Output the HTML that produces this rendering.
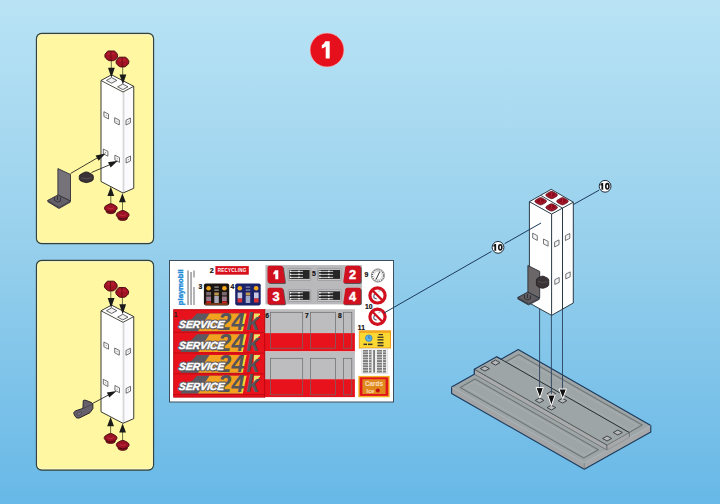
<!DOCTYPE html>
<html><head><meta charset="utf-8">
<style>
html,body{margin:0;padding:0;}
body{width:720px;height:504px;overflow:hidden;position:relative;background:linear-gradient(180deg,#b9e3f5 0%,#96cfec 50%,#67b8e7 100%);font-family:"Liberation Sans",sans-serif;}
svg{position:absolute;left:0;top:0;}
text{font-family:"Liberation Sans",sans-serif;}
</style></head>
<body>
<svg width="720" height="504" viewBox="0 0 720 504">
<defs>
  <g id="cap">
    <path d="M-3.2,-4.7 L2.6,-4.7 Q3.4,-4.7 4,-4.1 L6,-1.7 Q6.4,-1.1 6.4,-0.3 L6.2,1.3 Q6,2.1 5.3,2.7 L3,4.6 Q2.4,5 1.6,5 L-1.6,5 Q-2.4,5 -3,4.6 L-5.3,2.7 Q-6,2.1 -6.2,1.3 L-6.4,-0.3 Q-6.4,-1.1 -6,-1.7 L-4,-4.1 Q-3.6,-4.7 -3.2,-4.7 Z" fill="#a01224" stroke="#480810" stroke-width="1" stroke-linejoin="round"/>
    <path d="M-4.6,-1.4 L-2.6,-3.9 L2.4,-3.9 L4.6,-1.4 Q2,0 0,0 Q-2.4,0 -4.6,-1.4 Z" fill="#bc1e32" opacity="0.6"/>
    <path d="M-0.3,-4.6 L-0.3,4.7" stroke="#6a0814" stroke-width="0.9"/>
  </g>
  <g id="tower">
    <!-- left face -->
    <polygon points="101,80.5 123,92 123,193 101,181.5" fill="#ffffff"/>
    <!-- right face -->
    <polygon points="123,92 133.75,86.3 133.75,188.3 123,193" fill="#fbfbfd"/>
    <rect x="122.6" y="92" width="1.8" height="101" fill="#d8d8d8"/>
    <!-- top face -->
    <polygon points="101,80.5 111.5,74.8 133.75,86.3 123,92" fill="#ffffff"/>
    <!-- top holes -->
    <polygon points="106.4,80.4 111.6,77.6 116.8,80.4 111.6,83.2" fill="#f2f2f2" stroke="#3a3a3a" stroke-width="0.75" stroke-linejoin="round"/>
    <polygon points="117.6,86.8 122.8,84.0 128.0,86.8 122.8,89.6" fill="#f2f2f2" stroke="#3a3a3a" stroke-width="0.75" stroke-linejoin="round"/>
    <!-- outline -->
    <polygon points="101,80.5 111.5,74.8 133.75,86.3 133.75,188.3 123,193 101,181.5" fill="none" stroke="#3a3a32" stroke-width="1"/>
    <polyline points="101,80.5 123,92 133.75,86.3" fill="none" stroke="#3a3a32" stroke-width="0.9"/>
    <!-- side holes -->
    <g fill="#f6f6f6" stroke="#3a3a3a" stroke-width="0.7">
      <polygon points="103.9,111.7 108.5,114.1 108.5,118.9 103.9,116.5"/>
      <polygon points="114.7,117.7 119.3,120.1 119.3,124.9 114.7,122.5"/>
      <polygon points="103.3,149.0 107.9,151.4 107.9,156.2 103.3,153.8"/>
      <polygon points="114.9,155.2 119.5,157.6 119.5,162.4 114.9,160.0"/>
      <polygon points="126.0,120.2 130.4,118.0 130.4,122.8 126.0,125.0"/>
      <polygon points="126.1,158.2 130.5,156.0 130.5,160.8 126.1,163.0"/>
    </g>
    <g fill="#666">
      <rect x="105.8" y="114.9" width="0.8" height="0.8"/>
      <rect x="116.6" y="120.9" width="0.8" height="0.8"/>
      <rect x="105.2" y="152.2" width="0.8" height="0.8"/>
      <rect x="116.8" y="158.4" width="0.8" height="0.8"/>
      <rect x="127.8" y="121.1" width="0.8" height="0.8"/>
      <rect x="127.9" y="159.1" width="0.8" height="0.8"/>
    </g>
  </g>
  <g id="capB">
    <path d="M-4.3,0.8 L4.3,0.8 L4.6,3.6 Q3.2,5.2 0,5.2 Q-3.2,5.2 -4.6,3.6 Z" fill="#8a0e1c" stroke="#44080e" stroke-width="0.8" stroke-linejoin="round"/>
    <path d="M-6.3,-0.9 Q-6.3,-2 -4.6,-2.9 L-1.6,-4.5 Q0,-5.1 1.6,-4.5 L4.6,-2.9 Q6.3,-2 6.3,-0.9 L6.3,0.3 Q6,1.6 4.2,2.4 L1.6,3.3 Q0,3.8 -1.6,3.3 L-4.2,2.4 Q-6,1.6 -6.3,0.3 Z" fill="#9c1224" stroke="#44080e" stroke-width="0.9" stroke-linejoin="round"/>
    <path d="M-3.2,-0.6 Q0,1.2 3.2,-0.6" stroke="#d04050" stroke-width="0.8" fill="none" opacity="0.8"/>
  </g>
  <g id="capT">
    <path d="M-5.8,0.2 Q-6,-0.8 -4.6,-1.6 L-1.4,-3.4 Q0,-4.1 1.4,-3.4 L4.6,-1.6 Q6,-0.8 5.8,0.2 Q5.4,1.2 4,1.9 L1.3,3.3 Q0,3.9 -1.3,3.3 L-4,1.9 Q-5.4,1.2 -5.8,0.2 Z" fill="#a4142a" stroke="#520a14" stroke-width="0.7" stroke-linejoin="round"/>
    <path d="M-3.4,-1.2 Q0,-3.6 3.4,-1.2 L3.4,0.2 Q0,2.2 -3.4,0.2 Z" fill="#8a0c1c"/>
    <path d="M0,-2.8 L0,1.4" stroke="#c02838" stroke-width="0.7"/>
  </g>
  <g id="ten">
    <path d="M-3.6,-3.4 L-1.9,-3.4 L-1.9,3.4 L-3.7,3.4 L-3.7,-1.1 Q-4.1,-0.8 -4.7,-0.7 L-4.7,-2.1 Q-3.8,-2.5 -3.6,-3.4 Z" fill="#141414"/>
    <ellipse cx="2.25" cy="0" rx="1.55" ry="2.65" fill="none" stroke="#141414" stroke-width="1.6"/>
  </g>
  <g id="arrowDown">
    <polygon points="-3.4,-10 3.4,-10 0,0" fill="#1a1a1a"/>
  </g>
</defs>

<!-- Panels -->
<rect x="36.5" y="33.5" width="117" height="210" rx="5" fill="#fff7a2" stroke="#34443a" stroke-width="1.3"/>
<rect x="37.7" y="34.7" width="114.6" height="207.6" rx="4" fill="none" stroke="#fffbd0" stroke-width="0.9"/>
<rect x="36.5" y="260.5" width="117" height="209.5" rx="5" fill="#fff7a2" stroke="#34443a" stroke-width="1.3"/>
<rect x="37.7" y="261.7" width="114.6" height="207.1" rx="4" fill="none" stroke="#fffbd0" stroke-width="0.9"/>

<!-- Step number -->
<circle cx="327" cy="50" r="17" fill="#e5101c" stroke="#f2c4c8" stroke-width="0.7"/>
<path d="M325.3,41.3 L329.7,41.3 L329.7,58.4 L325.7,58.4 L325.7,46.6 Q323.9,48 321.8,48.5 L321.8,45 Q324.2,44.2 325.3,41.3 Z" fill="#ffffff"/>

<!-- Panel 1 -->
<g id="p1">
  <use href="#tower"/>
  <!-- top caps + arrows -->
  <line x1="111.3" y1="60" x2="111.3" y2="69" stroke="#6a7040" stroke-width="1"/>
  <line x1="122.7" y1="66.5" x2="122.7" y2="75" stroke="#6a7040" stroke-width="1"/>
  <use href="#arrowDown" x="111.4" y="77.8"/>
  <use href="#arrowDown" x="122.9" y="84.4"/>
  <use href="#cap" x="111.25" y="55.7"/>
  <use href="#cap" x="122.45" y="61.9"/>
  <!-- bracket -->
  <polygon points="57.9,168.6 70.5,174.5 70.5,201 57.9,195" fill="#76727a" stroke="#33313a" stroke-width="0.9" stroke-linejoin="round"/>
  <polygon points="47.5,200.5 57.9,195 70.5,201 59,207.5" fill="#64606a" stroke="#33313a" stroke-width="0.9" stroke-linejoin="round"/>
  <polygon points="47.5,200.5 59,207.5 59,209 47.5,202" fill="#3c3a44"/>
  <polygon points="59,207.5 70.5,201 70.5,202.5 59,209" fill="#46444e"/>
  <path d="M54.5,197 l0,3.5 M57.5,196 l0,4 M60.5,197.5 l0,3.5 M54.5,200.5 l3,1.5 l3,-1" stroke="#2a2830" stroke-width="0.8" fill="none"/>
  <!-- knob -->
  <g transform="translate(86.3,177.2) scale(1.12,1.1)">
    <path d="M-6.3,-0.9 Q-6.3,-2 -4.6,-2.9 L-1.6,-4.5 Q0,-5.1 1.6,-4.5 L4.6,-2.9 Q6.3,-2 6.3,-0.9 L6.3,1.8 Q6,3 4.2,3.8 L1.6,4.7 Q0,5.2 -1.6,4.7 L-4.2,3.8 Q-6,3 -6.3,1.8 Z" fill="#3a3236" stroke="#1e181c" stroke-width="0.7" stroke-linejoin="round"/>
    <path d="M-4.5,0.6 Q0,2.4 4.5,0.6" stroke="#5a5258" stroke-width="0.8" fill="none"/>
  </g>
  <!-- arrows to tower -->
  <line x1="70.5" y1="173.5" x2="98" y2="157.5" stroke="#2a2a22" stroke-width="0.9"/>
  <polygon points="105.5,153.5 95.6,155.6 98.6,160.8" fill="#1a1a1a"/>
  <line x1="91.5" y1="172.5" x2="110" y2="164.6" stroke="#2a2a22" stroke-width="0.9"/>
  <polygon points="117.8,160.7 108,162.2 110.6,167.6" fill="#1a1a1a"/>
  <!-- bottom arrows + caps -->
  <line x1="110.8" y1="195" x2="110.8" y2="204" stroke="#6a7040" stroke-width="1"/>
  <line x1="122.5" y1="201" x2="122.5" y2="211" stroke="#6a7040" stroke-width="1"/>
  <polygon points="110.8,186.8 107.4,196 114.2,196" fill="#1a1a1a"/>
  <polygon points="122.4,193.2 119,202.2 125.8,202.2" fill="#1a1a1a"/>
  <use href="#capB" x="110.8" y="208.5"/>
  <use href="#capB" x="122.7" y="215.3"/>
</g>


<!-- Panel 2 -->
<g id="p2">
  <use href="#tower" y="230.3"/>
  <line x1="110.8" y1="290" x2="110.8" y2="299" stroke="#6a7040" stroke-width="1"/>
  <line x1="122.4" y1="296.5" x2="122.4" y2="305" stroke="#6a7040" stroke-width="1"/>
  <use href="#arrowDown" x="111.1" y="307.9"/>
  <use href="#arrowDown" x="122.7" y="314.2"/>
  <use href="#cap" x="110.8" y="285.9"/>
  <use href="#cap" x="122.2" y="292.3"/>
  <!-- clip piece -->
  <path d="M83.3,400.5 Q84.5,399.8 86,400.4 L91.6,402.6 Q92.8,403.2 92.9,404.6 L92.9,408.6 L90,412.7 L79.5,417.9 Q76.5,418.8 75.2,416.5 L73.8,413.6 Q73.6,412 75,411.2 L77.1,410.3 L82.9,408.4 Z" fill="#66606c" stroke="#2a262c" stroke-width="1" stroke-linejoin="round"/>
  <path d="M83,408.4 L92.8,404.2" stroke="#3e3a42" stroke-width="0.7" fill="none"/>
  <ellipse cx="79.2" cy="413.6" rx="2.6" ry="1.3" fill="#7c7686" stroke="#3a363e" stroke-width="0.6" transform="rotate(-25 79.2 413.6)"/>
  <line x1="92.5" y1="403.5" x2="108.5" y2="395" stroke="#2a2a22" stroke-width="0.9"/>
  <polygon points="116.5,391 106.8,392.4 109.3,397.6" fill="#1a1a1a"/>
  <line x1="110.6" y1="425" x2="110.6" y2="434" stroke="#6a7040" stroke-width="1"/>
  <line x1="122.6" y1="431.5" x2="122.6" y2="441" stroke="#6a7040" stroke-width="1"/>
  <polygon points="110.6,417 107.2,426.2 114,426.2" fill="#1a1a1a"/>
  <polygon points="122.6,423.6 119.2,432.6 126,432.6" fill="#1a1a1a"/>
  <use href="#capB" x="110.6" y="438.3"/>
  <use href="#capB" x="122.7" y="445.2"/>
</g>

<!-- Sticker sheet -->
<g id="sheet">
  <rect x="169.5" y="260.5" width="224" height="141.5" fill="#ffffff" stroke="#3e4e5a" stroke-width="1"/>
  <!-- playmobil logo -->
  <text transform="translate(182.5,305.2) rotate(-90)" font-size="7.7" font-weight="bold" fill="#1e8ad6" stroke="#1e8ad6" stroke-width="0.35">playmobil</text>
  <g fill="#a4a4a6">
    <rect x="187.2" y="270.5" width="1.7" height="34.5"/>
    <rect x="190.2" y="272" width="1.7" height="33"/>
    <rect x="193.2" y="287" width="1.6" height="18"/>
    <rect x="193.2" y="270.5" width="1.6" height="7"/>
  </g>
  <!-- 2 -->
  <text x="209.7" y="273" font-size="7.2" font-weight="bold" fill="#111" stroke="#111" stroke-width="0.2">2</text>
  <rect x="215.4" y="266.1" width="33.4" height="8.6" fill="#d8101c"/>
  <text x="232.1" y="272.3" font-size="4.6" font-weight="bold" fill="#ffffff" text-anchor="middle" letter-spacing="0.2">RECYCLING</text>
  <!-- 3 -->
  <text x="198.6" y="288.8" font-size="6.8" font-weight="bold" fill="#111" stroke="#111" stroke-width="0.2">3</text>
  <rect x="203.9" y="283.5" width="25.3" height="21.9" rx="1.8" fill="#1c1612"/>
  <g>
    <circle cx="208.6" cy="288.2" r="2.3" fill="#f2a818"/>
    <circle cx="224.4" cy="288.2" r="2.3" fill="#f2a818"/>
    <rect x="206.2" y="292" width="4.8" height="3.4" fill="#7a6a70"/>
    <rect x="222" y="292" width="4.8" height="3.4" fill="#7a6a70"/>
    <rect x="206.2" y="296.5" width="4.8" height="4.5" fill="#9a7a8a"/>
    <rect x="222" y="296.5" width="4.8" height="4.5" fill="#9a7a8a"/>
    <rect x="206.2" y="301.3" width="4.8" height="2" fill="#d02020"/>
    <rect x="222" y="301.3" width="4.8" height="2" fill="#d02020"/>
    <rect x="214.3" y="286.5" width="4.5" height="1.2" fill="#9a9a9a"/>
    <rect x="214.3" y="289.5" width="4.5" height="1.2" fill="#9a9a9a"/>
    <rect x="214.3" y="292.5" width="4.5" height="3" fill="#c09a50"/>
    <rect x="214.3" y="296" width="4.5" height="7" fill="#a8a8b8"/>
    <rect x="205" y="303.6" width="23" height="0.9" fill="#e06020"/>
  </g>
  <!-- 4 -->
  <text x="230.6" y="288.8" font-size="6.8" font-weight="bold" fill="#111" stroke="#111" stroke-width="0.2">4</text>
  <rect x="235.2" y="283.5" width="25.5" height="21.9" rx="1.8" fill="#1a226a"/>
  <g>
    <circle cx="239.8" cy="288.2" r="2.3" fill="#f2a818"/>
    <circle cx="256.2" cy="288.2" r="2.3" fill="#f2a818"/>
    <rect x="237.6" y="292.5" width="4.6" height="6" fill="#c8c8e0"/>
    <rect x="254" y="292.5" width="4.6" height="6" fill="#c8c8e0"/>
    <rect x="237.6" y="298.5" width="4.6" height="4" fill="#d83030"/>
    <rect x="254" y="298.5" width="4.6" height="4" fill="#d83030"/>
    <rect x="245.7" y="286.5" width="4.5" height="1.2" fill="#8a8ab0"/>
    <rect x="245.7" y="289.5" width="4.5" height="1.2" fill="#8a8ab0"/>
    <rect x="245.7" y="292.5" width="4.5" height="3" fill="#c09a50"/>
    <rect x="245.7" y="296" width="4.5" height="7" fill="#a0a8c8"/>
  </g>
  <!-- gray panel 1-4 -->
  <rect x="265.4" y="265.1" width="96.5" height="39.3" fill="#b9b9bb"/>
  <g fill="#5a5254" transform="translate(0.9,0.9)">
    <path d="M269.5,265.8 L281,265.8 Q282.6,265.8 283,267.3 L285,281.5 Q285.2,283 283.6,283 L269.5,283 Q267.5,283 267.5,281 L267.5,267.8 Q267.5,265.8 269.5,265.8 Z"/>
    <path d="M269.5,287.7 L281,287.7 Q282.6,287.7 283,289.2 L285,302.9 Q285.2,304.4 283.6,304.4 L269.5,304.4 Q267.5,304.4 267.5,302.4 L267.5,289.7 Q267.5,287.7 269.5,287.7 Z"/>
    <path d="M358.8,265.8 L347.3,265.8 Q345.7,265.8 345.3,267.3 L343.3,281.5 Q343.1,283 344.7,283 L358.8,283 Q360.8,283 360.8,281 L360.8,267.8 Q360.8,265.8 358.8,265.8 Z"/>
    <path d="M358.8,287.7 L347.3,287.7 Q345.7,287.7 345.3,289.2 L343.3,302.9 Q343.1,304.4 344.7,304.4 L358.8,304.4 Q360.8,304.4 360.8,302.4 L360.8,289.7 Q360.8,287.7 358.8,287.7 Z"/>
  </g>
  <g fill="#d0101e">
    <path d="M269.5,265.8 L281,265.8 Q282.6,265.8 283,267.3 L285,281.5 Q285.2,283 283.6,283 L269.5,283 Q267.5,283 267.5,281 L267.5,267.8 Q267.5,265.8 269.5,265.8 Z"/>
    <path d="M269.5,287.7 L281,287.7 Q282.6,287.7 283,289.2 L285,302.9 Q285.2,304.4 283.6,304.4 L269.5,304.4 Q267.5,304.4 267.5,302.4 L267.5,289.7 Q267.5,287.7 269.5,287.7 Z"/>
    <path d="M358.8,265.8 L347.3,265.8 Q345.7,265.8 345.3,267.3 L343.3,281.5 Q343.1,283 344.7,283 L358.8,283 Q360.8,283 360.8,281 L360.8,267.8 Q360.8,265.8 358.8,265.8 Z"/>
    <path d="M358.8,287.7 L347.3,287.7 Q345.7,287.7 345.3,289.2 L343.3,302.9 Q343.1,304.4 344.7,304.4 L358.8,304.4 Q360.8,304.4 360.8,302.4 L360.8,289.7 Q360.8,287.7 358.8,287.7 Z"/>
  </g>
  <path d="M275,270.2 L278.3,270.2 L278.3,279.3 L275.3,279.3 L275.3,273.8 Q274.5,274.5 273.4,274.8 L273.4,272.4 Q274.6,271.8 275,270.2 Z" fill="#ffffff"/>
  <g font-size="12.8" font-weight="bold" fill="#ffffff" stroke="#ffffff" stroke-width="0.45" text-anchor="middle">
    <text x="276" y="300.6">3</text>
    <text x="352.5" y="279">2</text>
    <text x="352.5" y="300.6">4</text>
  </g>
  <g>
    <rect x="288.2" y="268.4" width="22.5" height="12" rx="0.8" fill="#cdcdcf" stroke="#858587" stroke-width="0.6"/>
    <rect x="289.3" y="269.9" width="20.3" height="9.0" fill="#262626"/>
    <rect x="290.0" y="270.9" width="13.0" height="0.9" fill="#d8d8d8"/>
    <rect x="289.8" y="270.6" width="1.4" height="1.5" fill="#ffffff"/>
    <rect x="298.3" y="270.6" width="1.3" height="1.5" fill="#ffffff"/>
    <rect x="290.0" y="273.9" width="13.0" height="0.9" fill="#d8d8d8"/>
    <rect x="289.8" y="273.6" width="1.4" height="1.5" fill="#ffffff"/>
    <rect x="298.3" y="273.6" width="1.3" height="1.5" fill="#ffffff"/>
    <rect x="290.0" y="276.9" width="13.0" height="0.9" fill="#d8d8d8"/>
    <rect x="289.8" y="276.6" width="1.4" height="1.5" fill="#ffffff"/>
    <rect x="298.3" y="276.6" width="1.3" height="1.5" fill="#ffffff"/>
    <rect x="317.6" y="268.4" width="23.6" height="12" rx="0.8" fill="#cdcdcf" stroke="#858587" stroke-width="0.6"/>
    <rect x="318.7" y="269.9" width="21.4" height="9.0" fill="#262626"/>
    <rect x="319.4" y="270.9" width="13.7" height="0.9" fill="#d8d8d8"/>
    <rect x="319.2" y="270.6" width="1.4" height="1.5" fill="#ffffff"/>
    <rect x="328.2" y="270.6" width="1.3" height="1.5" fill="#ffffff"/>
    <rect x="319.4" y="273.9" width="13.7" height="0.9" fill="#d8d8d8"/>
    <rect x="319.2" y="273.6" width="1.4" height="1.5" fill="#ffffff"/>
    <rect x="328.2" y="273.6" width="1.3" height="1.5" fill="#ffffff"/>
    <rect x="319.4" y="276.9" width="13.7" height="0.9" fill="#d8d8d8"/>
    <rect x="319.2" y="276.6" width="1.4" height="1.5" fill="#ffffff"/>
    <rect x="328.2" y="276.6" width="1.3" height="1.5" fill="#ffffff"/>
    <rect x="288.2" y="289.8" width="22.5" height="11.6" rx="0.8" fill="#cdcdcf" stroke="#858587" stroke-width="0.6"/>
    <rect x="289.3" y="291.3" width="20.3" height="8.6" fill="#262626"/>
    <rect x="290.0" y="292.3" width="13.0" height="0.9" fill="#d8d8d8"/>
    <rect x="289.8" y="292.0" width="1.4" height="1.5" fill="#ffffff"/>
    <rect x="298.3" y="292.0" width="1.3" height="1.5" fill="#ffffff"/>
    <rect x="290.0" y="295.3" width="13.0" height="0.9" fill="#d8d8d8"/>
    <rect x="289.8" y="295.0" width="1.4" height="1.5" fill="#ffffff"/>
    <rect x="298.3" y="295.0" width="1.3" height="1.5" fill="#ffffff"/>
    <rect x="290.0" y="298.3" width="13.0" height="0.9" fill="#d8d8d8"/>
    <rect x="289.8" y="298.0" width="1.4" height="1.5" fill="#ffffff"/>
    <rect x="298.3" y="298.0" width="1.3" height="1.5" fill="#ffffff"/>
    <rect x="317.6" y="289.8" width="23.6" height="11.6" rx="0.8" fill="#cdcdcf" stroke="#858587" stroke-width="0.6"/>
    <rect x="318.7" y="291.3" width="21.4" height="8.6" fill="#262626"/>
    <rect x="319.4" y="292.3" width="13.7" height="0.9" fill="#d8d8d8"/>
    <rect x="319.2" y="292.0" width="1.4" height="1.5" fill="#ffffff"/>
    <rect x="328.2" y="292.0" width="1.3" height="1.5" fill="#ffffff"/>
    <rect x="319.4" y="295.3" width="13.7" height="0.9" fill="#d8d8d8"/>
    <rect x="319.2" y="295.0" width="1.4" height="1.5" fill="#ffffff"/>
    <rect x="328.2" y="295.0" width="1.3" height="1.5" fill="#ffffff"/>
    <rect x="319.4" y="298.3" width="13.7" height="0.9" fill="#d8d8d8"/>
    <rect x="319.2" y="298.0" width="1.4" height="1.5" fill="#ffffff"/>
    <rect x="328.2" y="298.0" width="1.3" height="1.5" fill="#ffffff"/>
  </g>
  <text x="311.9" y="276.4" font-size="6.8" font-weight="bold" fill="#111" stroke="#111" stroke-width="0.2">5</text>
  <!-- 9 gauge -->
  <text x="364.5" y="277.1" font-size="6.8" font-weight="bold" fill="#111" stroke="#111" stroke-width="0.2">9</text>
  <circle cx="377.9" cy="275.5" r="6.6" fill="#ffffff" stroke="#666" stroke-width="0.7"/>
  <circle cx="377.9" cy="275.5" r="5.6" fill="none" stroke="#555" stroke-width="1.1" stroke-dasharray="1.1 1.1"/>
  <circle cx="377.9" cy="275.5" r="4.2" fill="none" stroke="#aaa" stroke-width="0.5"/>
  <line x1="376" y1="279.5" x2="379.8" y2="271.5" stroke="#222" stroke-width="0.9"/>
  <!-- no smoking -->
  <g id="nosmoke">
    <circle cx="377.5" cy="295.4" r="7.6" fill="#ffffff" stroke="#d0101e" stroke-width="3.2"/>
    <path d="M375,292.6 l-1.2,3.2 q-0.4,2 1.4,2.6 l1.4,0.4" stroke="#5a5e70" stroke-width="1.2" fill="none"/>
    <path d="M378.5,291.5 l3,-1.6" stroke="#9a9ea8" stroke-width="1" fill="none"/>
    <line x1="372" y1="289.9" x2="383" y2="300.9" stroke="#d0101e" stroke-width="2.3"/>
  </g>
  <use href="#nosmoke" y="21.3"/>
  <text x="365" y="308.5" font-size="6.8" font-weight="bold" fill="#111" stroke="#111" stroke-width="0.2">10</text>
  <!-- red service area -->
  <rect x="173.7" y="309.7" width="90.8" height="87.4" fill="#e8121c" stroke="#c00812" stroke-width="1"/>
  <g transform="translate(0,0.00)">
    <polygon points="197,313.6 243.5,313.6 239.7,331.3 180.2,331.3" fill="#5c5a60"/>
    <polygon points="209.5,313.6 243,313.6 239.2,331.3 198,331.3" fill="#f2a21e"/>
    <polygon points="243,313.6 246.6,313.6 242.8,331.3 239.2,331.3" fill="#f4d23a"/>
    <polygon points="254,313.6 260,313.6 260,314.5 253.5,321.5" fill="#e8e26a"/>
    <text y="330.2" font-size="23.5" font-weight="bold" font-style="italic" fill="#55545a"><tspan x="218.2">2</tspan><tspan x="231.4">4</tspan><tspan x="246.3">k</tspan></text>
    <text transform="translate(178.6,328.1) skewX(-8)" font-size="10.3" font-weight="bold" font-style="italic" fill="#5c5a60" stroke="#5c5a60" stroke-width="2.6" stroke-linejoin="round">SERVICE</text>
    <text transform="translate(178.6,328.1) skewX(-8)" font-size="10.3" font-weight="bold" font-style="italic" fill="#ffffff" stroke="#ffffff" stroke-width="0.45">SERVICE</text>
    <line x1="173.5" y1="332.3" x2="264.5" y2="332.3" stroke="#c40a14" stroke-width="1"/>
  </g>
  <g transform="translate(0,20.75)">
    <polygon points="197,313.6 243.5,313.6 239.7,331.3 180.2,331.3" fill="#5c5a60"/>
    <polygon points="209.5,313.6 243,313.6 239.2,331.3 198,331.3" fill="#f2a21e"/>
    <polygon points="243,313.6 246.6,313.6 242.8,331.3 239.2,331.3" fill="#f4d23a"/>
    <polygon points="254,313.6 260,313.6 260,314.5 253.5,321.5" fill="#e8e26a"/>
    <text y="330.2" font-size="23.5" font-weight="bold" font-style="italic" fill="#55545a"><tspan x="218.2">2</tspan><tspan x="231.4">4</tspan><tspan x="246.3">k</tspan></text>
    <text transform="translate(178.6,328.1) skewX(-8)" font-size="10.3" font-weight="bold" font-style="italic" fill="#5c5a60" stroke="#5c5a60" stroke-width="2.6" stroke-linejoin="round">SERVICE</text>
    <text transform="translate(178.6,328.1) skewX(-8)" font-size="10.3" font-weight="bold" font-style="italic" fill="#ffffff" stroke="#ffffff" stroke-width="0.45">SERVICE</text>
    <line x1="173.5" y1="332.3" x2="264.5" y2="332.3" stroke="#c40a14" stroke-width="1"/>
  </g>
  <g transform="translate(0,41.50)">
    <polygon points="197,313.6 243.5,313.6 239.7,331.3 180.2,331.3" fill="#5c5a60"/>
    <polygon points="209.5,313.6 243,313.6 239.2,331.3 198,331.3" fill="#f2a21e"/>
    <polygon points="243,313.6 246.6,313.6 242.8,331.3 239.2,331.3" fill="#f4d23a"/>
    <polygon points="254,313.6 260,313.6 260,314.5 253.5,321.5" fill="#e8e26a"/>
    <text y="330.2" font-size="23.5" font-weight="bold" font-style="italic" fill="#55545a"><tspan x="218.2">2</tspan><tspan x="231.4">4</tspan><tspan x="246.3">k</tspan></text>
    <text transform="translate(178.6,328.1) skewX(-8)" font-size="10.3" font-weight="bold" font-style="italic" fill="#5c5a60" stroke="#5c5a60" stroke-width="2.6" stroke-linejoin="round">SERVICE</text>
    <text transform="translate(178.6,328.1) skewX(-8)" font-size="10.3" font-weight="bold" font-style="italic" fill="#ffffff" stroke="#ffffff" stroke-width="0.45">SERVICE</text>
    <line x1="173.5" y1="332.3" x2="264.5" y2="332.3" stroke="#c40a14" stroke-width="1"/>
  </g>
  <g transform="translate(0,62.25)">
    <polygon points="197,313.6 243.5,313.6 239.7,331.3 180.2,331.3" fill="#5c5a60"/>
    <polygon points="209.5,313.6 243,313.6 239.2,331.3 198,331.3" fill="#f2a21e"/>
    <polygon points="243,313.6 246.6,313.6 242.8,331.3 239.2,331.3" fill="#f4d23a"/>
    <polygon points="254,313.6 260,313.6 260,314.5 253.5,321.5" fill="#e8e26a"/>
    <text y="330.2" font-size="23.5" font-weight="bold" font-style="italic" fill="#55545a"><tspan x="218.2">2</tspan><tspan x="231.4">4</tspan><tspan x="246.3">k</tspan></text>
    <text transform="translate(178.6,328.1) skewX(-8)" font-size="10.3" font-weight="bold" font-style="italic" fill="#5c5a60" stroke="#5c5a60" stroke-width="2.6" stroke-linejoin="round">SERVICE</text>
    <text transform="translate(178.6,328.1) skewX(-8)" font-size="10.3" font-weight="bold" font-style="italic" fill="#ffffff" stroke="#ffffff" stroke-width="0.45">SERVICE</text>
    <line x1="173.5" y1="332.3" x2="264.5" y2="332.3" stroke="#c40a14" stroke-width="1"/>
  </g>

  <text x="173.8" y="316.8" font-size="6.6" font-weight="bold" fill="#222">1</text>
  <!-- stickers 6,7,8 -->
  <rect x="264.7" y="309.2" width="90.2" height="23.9" fill="#bdbdbf"/>
  <rect x="264.7" y="333.1" width="90.2" height="18.3" fill="#e8121c"/>
  <rect x="264.7" y="351.4" width="90.2" height="27.8" fill="#bdbdbf"/>
  <rect x="264.7" y="379.2" width="90.2" height="17.9" fill="#e8121c"/>
  <line x1="264.7" y1="309" x2="264.7" y2="397.5" stroke="#c00812" stroke-width="1"/>
  <g fill="none" stroke="#6a6a6c" stroke-width="0.7">
    <rect x="270.4" y="312.3" width="32.3" height="35.9"/>
    <rect x="310.5" y="312.3" width="25.1" height="35.9"/>
    <rect x="343.4" y="312.3" width="8.4" height="35.9"/>
    <rect x="270.4" y="358.3" width="32.3" height="36.5"/>
    <rect x="310.5" y="358.3" width="25.1" height="36.5"/>
    <rect x="343.4" y="358.3" width="8.4" height="36.5"/>
  </g>
  <g font-size="6.7" font-weight="bold" fill="#111" stroke="#111" stroke-width="0.2">
    <text x="265.3" y="317.8">6</text>
    <text x="305" y="317.8">7</text>
    <text x="337.9" y="317.8">8</text>
    <text x="357.8" y="329.8">11</text>
  </g>
  <!-- 11 sticker -->
  <rect x="359.3" y="330.8" width="31.2" height="17.2" fill="#fbd832" stroke="#f0a020" stroke-width="1"/>
  <rect x="359.8" y="331.2" width="30.2" height="1.6" fill="#f0a020"/>
  <circle cx="368.8" cy="338.2" r="3.3" fill="#5ab4ec" stroke="#2a6ab0" stroke-width="0.6"/>
  <path d="M368.8,336 l0,2.2 l1.6,0" stroke="#1a3a70" stroke-width="0.5" fill="none"/>
  <g fill="#3a3428">
    <rect x="378.5" y="334" width="4.5" height="1.2"/><rect x="377.5" y="336.6" width="6" height="1.3"/><rect x="377.5" y="339.2" width="6" height="1.3"/><rect x="377.5" y="342" width="6" height="1.5"/>
    <rect x="363.5" y="343.6" width="3.5" height="1.5"/><rect x="368" y="343.6" width="4.5" height="1.5"/><rect x="377.5" y="344.8" width="6" height="1.5"/>
  </g>
  <!-- gray table -->
  <rect x="361.8" y="348.6" width="26" height="25" fill="#eeeeee" stroke="#d4d4d4" stroke-width="0.5"/>
  <g fill="#7c7c7c">
    <rect x="363" y="350" width="8.5" height="22.5"/>
    <rect x="373.2" y="350" width="1.8" height="22.5"/>
    <rect x="377" y="350" width="9" height="22.5"/>
  </g>
  <g fill="#eeeeee">
    <rect x="363" y="351.6" width="8.5" height="0.7"/><rect x="363" y="354.2" width="8.5" height="0.7"/><rect x="363" y="356.8" width="8.5" height="0.7"/><rect x="363" y="359.4" width="8.5" height="0.7"/><rect x="363" y="362" width="8.5" height="0.7"/><rect x="363" y="364.6" width="8.5" height="0.7"/><rect x="363" y="367.2" width="8.5" height="0.7"/><rect x="363" y="369.8" width="8.5" height="0.7"/>
    <rect x="377" y="351.6" width="9" height="0.7"/><rect x="377" y="354.2" width="9" height="0.7"/><rect x="377" y="356.8" width="9" height="0.7"/><rect x="377" y="359.4" width="9" height="0.7"/><rect x="377" y="362" width="9" height="0.7"/><rect x="377" y="364.6" width="9" height="0.7"/><rect x="377" y="367.2" width="9" height="0.7"/><rect x="377" y="369.8" width="9" height="0.7"/>
    <rect x="368" y="350" width="1" height="22.5"/><rect x="382" y="350" width="1" height="22.5"/>
  </g>
  <!-- Cards sticker -->
  <rect x="359" y="376.6" width="30" height="20" fill="#e2141c" stroke="#f2b424" stroke-width="1.4"/>
  <rect x="362.4" y="379.2" width="23.2" height="14.8" fill="#e0881c"/>
  <text x="374" y="386.4" font-size="6.4" font-weight="bold" fill="#fbe0c8" text-anchor="middle">Cards</text>
  <text x="370.5" y="392.8" font-size="5.6" font-weight="bold" fill="#fbe0c8" text-anchor="middle">Ice</text>
  <circle cx="377.8" cy="390.6" r="2" fill="#c01010"/>
</g>
<g id="baseplate" stroke-linejoin="round">
<polygon points="451.6,387.0 584.3,462.9 584.3,469.3 451.6,393.4" fill="#a3a4a6"/>
<polygon points="584.3,462.9 650.8,425.6 650.8,432.0 584.3,469.3" fill="#a7a8aa"/>
<polygon points="451.6,387.0 518.2,349.6 650.8,425.6 584.3,462.9" fill="#9ea5a7"/>
<polygon points="460.2,387.4 475.0,379.1 598.4,449.7 583.7,458.0" fill="none" stroke="#707678" stroke-width="1.1"/>
<polygon points="464.9,387.1 474.3,381.8 593.7,450.1 584.3,455.4" fill="none" stroke="#b0b4b4" stroke-width="0.6"/>
<polygon points="505.3,362.1 518.8,354.5 642.3,425.1 628.7,432.7" fill="none" stroke="#707678" stroke-width="1.1"/>
<polygon points="509.9,361.8 518.2,357.1 637.6,425.4 629.3,430.1" fill="none" stroke="#b0b4b4" stroke-width="0.6"/>
<polygon points="474.3,374.2 607.0,450.1 607.0,445.1 474.3,369.2" fill="#a8aaac" stroke="#505658" stroke-width="0.6"/>
<polygon points="474.3,369.2 496.6,356.7 629.3,432.6 607.0,445.1" fill="#9ea5a7"/>
<line x1="474.3" y1="369.2" x2="607.0" y2="445.1" stroke="#4a5052" stroke-width="0.8"/>
<line x1="496.6" y1="356.7" x2="629.3" y2="432.6" stroke="#2a3034" stroke-width="1"/>
<polygon points="607.0,450.1 629.3,437.6 629.3,432.6 607.0,445.1" fill="#a7a8aa" stroke="#505658" stroke-width="0.6"/>
<polygon points="451.6,387.0 474.3,374.2 474.3,369.2 496.6,356.7 501.1,359.2 518.2,349.6 650.8,425.6 650.8,432.0 584.3,469.3 451.6,393.4" fill="none" stroke="#1c3a5c" stroke-width="1.1"/>
<polyline points="451.6,387.0 584.3,462.9 650.8,425.6" fill="none" stroke="#b8babc" stroke-width="0.6"/>
<line x1="584.3" y1="462.9" x2="584.3" y2="469.29999999999995" stroke="#707070" stroke-width="0.6"/>
<polygon points="480.4,368.6 484.9,366.1 489.4,368.6 484.9,371.1" fill="#b4b8ba" stroke="#34383a" stroke-width="0.9" stroke-linejoin="round"/>
<polygon points="491.0,362.6 495.5,360.1 500.0,362.6 495.5,365.1" fill="#b4b8ba" stroke="#34383a" stroke-width="0.9" stroke-linejoin="round"/>
<polygon points="602.6,438.5 607.1,436.0 611.6,438.5 607.1,441.0" fill="#b4b8ba" stroke="#34383a" stroke-width="0.9" stroke-linejoin="round"/>
<polygon points="613.3,432.5 617.8,430.0 622.3,432.5 617.8,435.0" fill="#b4b8ba" stroke="#34383a" stroke-width="0.9" stroke-linejoin="round"/>
<polygon points="535.3,400.4 539.6,398.0 543.9,400.4 539.6,402.8" fill="#b4b8ba" stroke="#34383a" stroke-width="0.9" stroke-linejoin="round"/>
<polygon points="547.1,407.6 551.4,405.2 555.7,407.6 551.4,410.0" fill="#b4b8ba" stroke="#34383a" stroke-width="0.9" stroke-linejoin="round"/>
<polygon points="558.2,400.7 562.5,398.3 566.8,400.7 562.5,403.1" fill="#b4b8ba" stroke="#34383a" stroke-width="0.9" stroke-linejoin="round"/>
<polygon points="547.1,393.6 551.4,391.2 555.7,393.6 551.4,396.0" fill="#b4b8ba" stroke="#34383a" stroke-width="0.9" stroke-linejoin="round"/>
</g>

<g id="rtower">
  <!-- vertical guide lines -->
  <g stroke="#2a4260" stroke-width="0.9">
    <line x1="539.6" y1="300" x2="539.6" y2="390"/>
    <line x1="551.4" y1="315" x2="551.4" y2="397"/>
    <line x1="562.5" y1="305" x2="562.5" y2="391"/>
  </g>
  <g fill="#111" stroke="#ffffff" stroke-width="1" stroke-linejoin="round">
    <polygon points="536,387.6 543.4,387.6 539.9,398"/>
    <polygon points="547.7,395 555.1,395 551.4,405.6"/>
    <polygon points="559,389 566.4,389 562.8,398.8"/>
  </g>
  <!-- faces -->
  <polygon points="529.4,201.7 551.6,214.1 551.6,315.4 529.4,303" fill="#ffffff"/>
  <polygon points="551.6,214.1 573.3,202.2 573.3,303 551.6,315.4" fill="#fdfdfe"/>
  <polygon points="529.4,201.7 551.2,189.3 573.3,202.2 551.6,214.1" fill="#ffffff"/>
  <g stroke="#22303c" stroke-width="0.95" fill="none" stroke-linejoin="round">
    <polygon points="529.4,201.7 551.2,189.3 573.3,202.2 573.3,303 551.6,315.4 529.4,303"/>
    <polyline points="529.4,201.7 551.6,214.1 573.3,202.2"/>
    <line x1="551.6" y1="214.1" x2="551.6" y2="315.4"/>
    <line x1="562.5" y1="208.1" x2="562.5" y2="309.2"/>
    <line x1="541.2" y1="195.6" x2="562.5" y2="208.1" stroke-width="0.9"/>
  </g>
  <!-- top caps -->
  <use href="#capT" x="540.7" y="201.3"/>
  <use href="#capT" x="551.6" y="195.1"/>
  <use href="#capT" x="562.5" y="201.3"/>
  <use href="#capT" x="551.6" y="207.5"/>
  <!-- holes -->
  <g fill="#f6f6f6" stroke="#3a3e44" stroke-width="0.7">
    <polygon points="532.7,233.2 537.3,235.6 537.3,240.4 532.7,238.0"/>
    <polygon points="543.5,239.0 548.1,241.4 548.1,246.2 543.5,243.8"/>
    <polygon points="554.6,242.1 559.0,239.9 559.0,244.7 554.6,246.9"/>
    <polygon points="565.4,235.7 569.8,233.5 569.8,238.3 565.4,240.5"/>
    <polygon points="554.8,279.7 559.2,277.5 559.2,282.3 554.8,284.5"/>
    <polygon points="565.8,274.1 570.2,271.9 570.2,276.7 565.8,278.9"/>
  </g>
  <!-- bracket -->
  <polygon points="527.9,265.5 539.7,271.4 539.7,298 527.9,293" fill="#6b6668" stroke="#2a2e36" stroke-width="0.9" stroke-linejoin="round"/>
  <polygon points="517.5,297.6 527.9,292 539.5,298.2 528.6,304" fill="#5f5b5e" stroke="#22303c" stroke-width="0.9" stroke-linejoin="round"/>
  <polygon points="517.5,297.6 528.6,304 528.6,305.6 517.5,299.2" fill="#3a3c44"/>
  <polygon points="528.6,304 539.5,298.2 539.5,299.8 528.6,305.6" fill="#444650"/>
  <path d="M524.5,295 l0,3.5 M527.5,294 l0,4 M530.5,295.5 l0,3.5 M524.5,298.5 l3,1.5 l3,-1" stroke="#2a2830" stroke-width="0.8" fill="none"/>
  <g transform="translate(542.6,282.2)">
    <path d="M-6.2,-2.2 Q-6.2,-3.4 -4.6,-4.3 L-1.6,-5.8 Q0,-6.4 1.6,-5.8 L4.6,-4.3 Q6.2,-3.4 6.2,-2.2 L6.2,2.6 Q5.9,3.8 4.2,4.7 L1.6,5.8 Q0,6.4 -1.6,5.8 L-4.2,4.7 Q-5.9,3.8 -6.2,2.6 Z" fill="#3a3436" stroke="#1a1618" stroke-width="0.7" stroke-linejoin="round"/>
    <path d="M-4.6,-0.6 Q0,1.4 4.6,-0.6" stroke="#5a5458" stroke-width="0.8" fill="none"/>
  </g>
</g>
<!-- callouts -->
<g stroke="#1c3a5c" stroke-width="1">
  <line x1="384" y1="313" x2="491.5" y2="251.4"/>
  <line x1="504.6" y1="243.7" x2="541" y2="223"/>
  <line x1="573.3" y1="204.6" x2="599" y2="190.2"/>
</g>
<g>
  <circle cx="498.05" cy="247.35" r="5.9" fill="#ffffff" stroke="#1c2a38" stroke-width="1"/>
  <use href="#ten" x="498.05" y="247.35"/>
  <circle cx="605.1" cy="186.3" r="5.9" fill="#ffffff" stroke="#1c2a38" stroke-width="1"/>
  <use href="#ten" x="605.1" y="186.3"/>
</g>
</svg>
</body></html>
